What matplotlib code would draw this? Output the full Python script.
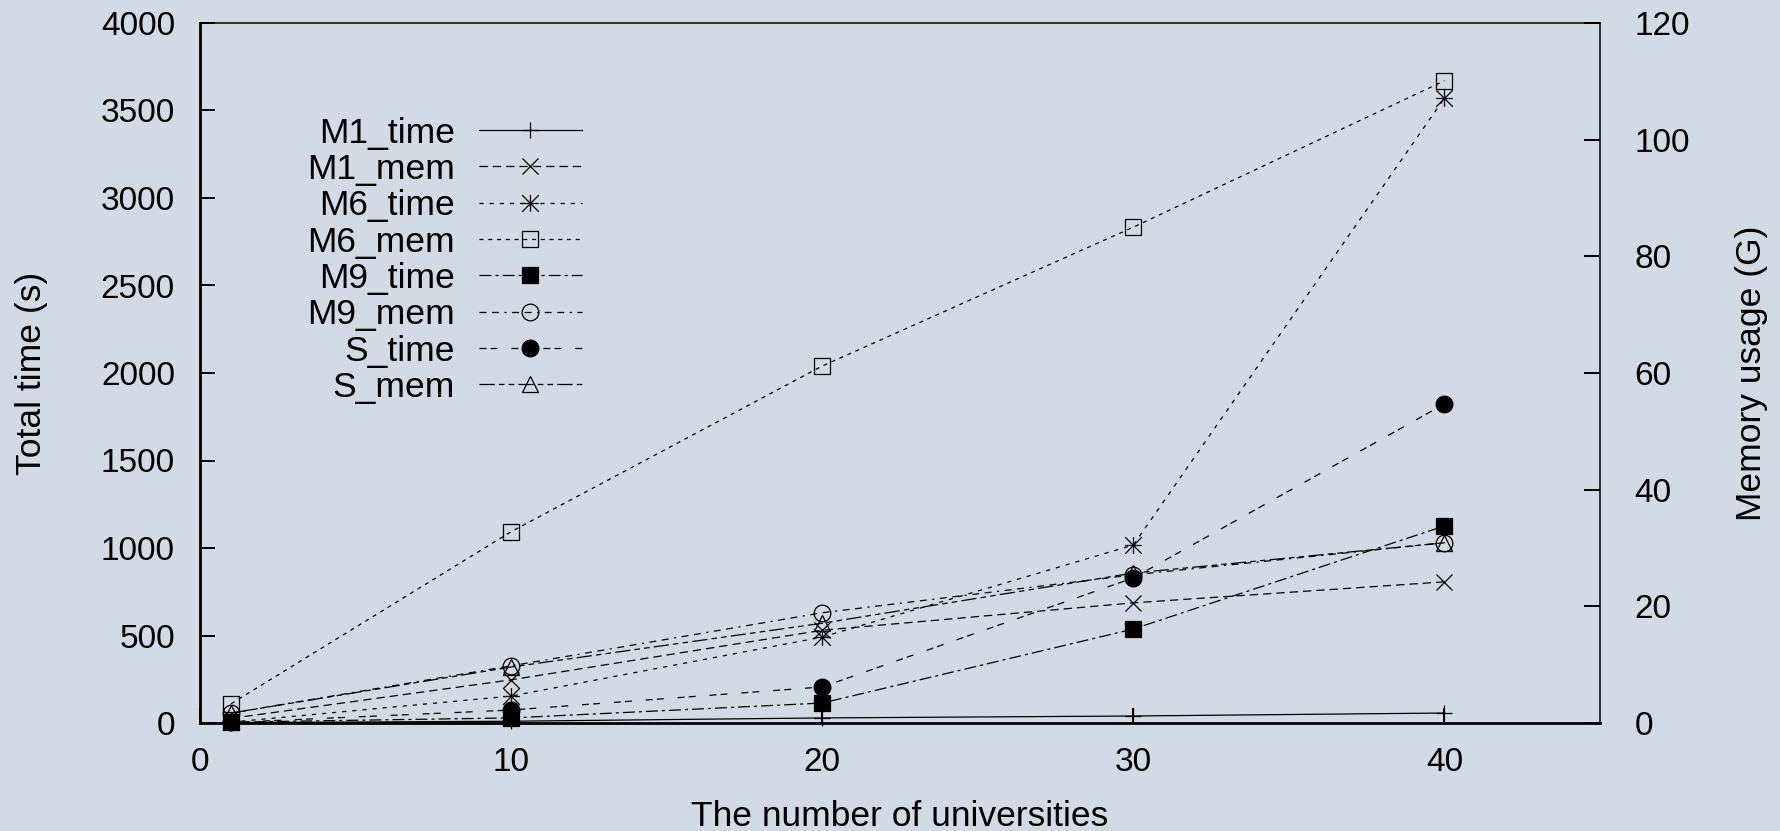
import matplotlib
matplotlib.use("Agg")
import matplotlib.pyplot as plt
from matplotlib.path import Path
from matplotlib.lines import Line2D

plt.rcParams['font.family'] = ['Liberation Sans', 'DejaVu Sans']
plt.rcParams['lines.scale_dashes'] = False

# ---------------- data ----------------
universities = [1, 10, 20, 30, 40]
M1_time = [2, 10, 29, 40, 57]
M1_mem = [0.8, 7.4, 15.9, 20.6, 24.2]
M6_time = [5, 154, 491, 1017, 3571]
M6_mem = [3.3, 32.8, 61.2, 85.0, 110.1]
M9_time = [5, 29, 114, 537, 1126]
M9_mem = [1.7, 9.8, 18.9, 25.4, 30.9]
S_time = [3, 74, 206, 829, 1823]
S_mem = [1.7, 9.6, 17.1, 25.7, 30.9]

series_names = ["M1_time", "M1_mem", "M6_time", "M6_mem",
                "M9_time", "M9_mem", "S_time", "S_mem"]
series_values = [M1_time, M1_mem, M6_time, M6_mem,
                 M9_time, M9_mem, S_time, S_mem]
on_right_axis = [False, True, False, True, False, True, False, True]

x_ticks = [0, 10, 20, 30, 40]
left_ticks = list(range(0, 4001, 500))
right_ticks = list(range(0, 121, 20))

# ---------------- styles ----------------
star = Path([(-1, 0), (1, 0), (0, -1), (0, 1), (-1, -1), (1, 1), (-1, 1), (1, -1)],
            [Path.MOVETO, Path.LINETO] * 4)

styles = [
    dict(marker='+', ms=12, dashes=None, mfc='black'),
    dict(marker='x', ms=11.5, dashes=(6, 3.6), mfc='black'),
    dict(marker=star, ms=12, dashes=(3, 4.3), mfc='black'),
    dict(marker='s', ms=12, dashes=(2.9, 3.4), mfc='none'),
    dict(marker='s', ms=12, dashes=(8.6, 2.9, 2.2, 2.9), mfc='black'),
    dict(marker='o', ms=12, dashes=(5, 4, 5, 4, 1.5, 4), mfc='none'),
    dict(marker='o', ms=12, dashes=(5, 3, 5, 10), mfc='black'),
    dict(marker='^', ms=11, dashes=(11, 3, 4, 3, 4, 3), mfc='none'),
]

bg = '#d2dae6'
fig = plt.figure(figsize=(17.81, 8.31), dpi=100)
fig.patch.set_facecolor(bg)
ax = fig.add_axes([200 / 1781, 108 / 831, 1400 / 1781, 700 / 831])
ax.set_facecolor(bg)
ax2 = ax.twinx()

ax.set_xlim(0, 45)
ax.set_ylim(0, 4000)
ax2.set_ylim(0, 120)
ax.set_xticks(x_ticks)
ax.set_yticks(left_ticks)
ax2.set_yticks(right_ticks)

lw = 0.9
for name, vals, right, st in zip(series_names, series_values, on_right_axis, styles):
    target = ax2 if right else ax
    line, = target.plot(universities, vals, color='black', lw=lw,
                        marker=st['marker'], ms=st['ms'], mfc=st['mfc'],
                        mec='black', mew=0.9, clip_on=False)
    if st['dashes'] is not None:
        line.set_dashes(st['dashes'])

# manual gnuplot-style key (labels right aligned, sample to the right)
y0 = 0.847
dy = 0.0519
for i, (name, st) in enumerate(zip(series_names, styles)):
    yy = y0 - i * dy
    ln = Line2D([0.199, 0.273], [yy, yy], transform=ax2.transAxes, color='black', lw=lw)
    if st['dashes'] is not None:
        ln.set_dashes(st['dashes'])
    ax2.add_line(ln)
    mk = Line2D([0.236], [yy], transform=ax2.transAxes, linestyle='none',
                marker=st['marker'], ms=st['ms'], mfc=st['mfc'], mec='black', mew=0.9)
    ax2.add_line(mk)
    ax2.text(0.182, yy - 0.018, name, transform=ax2.transAxes, ha='right',
             va='baseline', fontsize=25.5)

# spines
for s in ['left', 'bottom']:
    ax.spines[s].set_linewidth(2.0)
ax.spines['top'].set_linewidth(1.1)
ax.spines['right'].set_visible(False)
for s in ['left', 'bottom', 'top']:
    ax2.spines[s].set_visible(False)
ax2.spines['right'].set_linewidth(1.1)

ax.tick_params(axis='y', direction='in', length=10.8, width=1.4, pad=18,
               labelsize=24, right=False)
ax.tick_params(axis='x', direction='in', length=10.8, width=1.4, pad=17,
               labelsize=24, top=False)
ax2.tick_params(axis='y', direction='in', length=11.5, width=1.4, pad=25,
                labelsize=24)

ax.set_ylabel('Total time (s)', fontsize=25.5)
ax.yaxis.set_label_coords(-0.1207, 0.5)
ax.yaxis.label.set_va('center')
ax2.set_ylabel('Memory usage (G)', fontsize=25.5, rotation=90)
ax2.yaxis.set_label_coords(1.1079, 0.5)
ax2.yaxis.label.set_va('center')
ax.set_xlabel('The number of universities', fontsize=25.5)
ax.xaxis.set_label_coords(0.5, (723 - 826) / 700)
ax.xaxis.label.set_va('baseline')

fig.savefig('out.png', dpi=100, facecolor=bg)
